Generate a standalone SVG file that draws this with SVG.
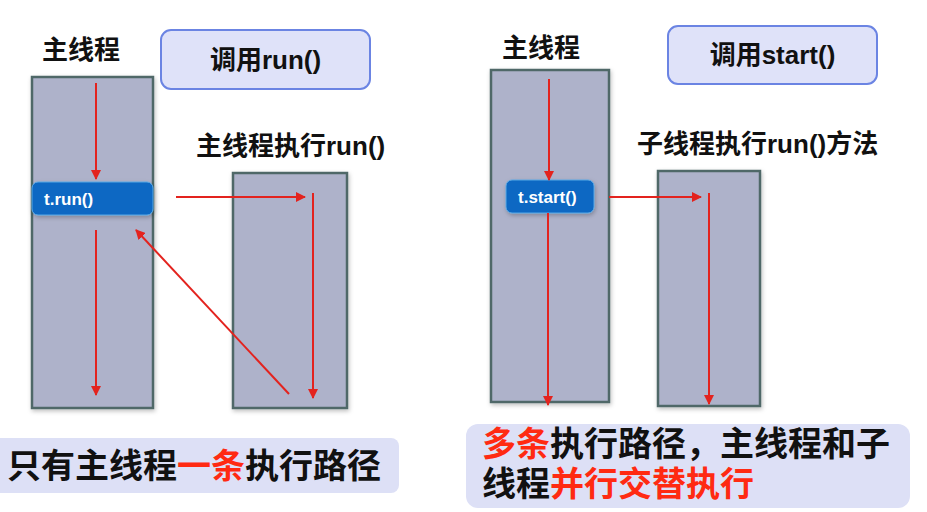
<svg xmlns="http://www.w3.org/2000/svg" width="927" height="512" viewBox="0 0 927 512">
<style>
.t{font-family:"Liberation Sans","Noto Sans CJK SC",sans-serif;font-weight:bold;fill:#111}
.lbl{font-size:26px}
.big{font-size:34px}
.btn{font-size:17px;fill:#fff}
.red{fill:#ff2a12}
.col{fill:#aeb2ca;stroke:#4f6868;stroke-width:2.5}
.call{fill:#0c68c3;stroke:#5aa9e6;stroke-width:1}
.box{fill:#dfe2f9;stroke:#6b84e3;stroke-width:2}
.note{fill:#dde0f6}
.ar{stroke:#e3231e;stroke-width:2;fill:none;marker-end:url(#ah)}
</style>
<defs>
<marker id="ah" viewBox="0 0 10 10" refX="9" refY="5" markerWidth="5" markerHeight="5" orient="auto" markerUnits="strokeWidth">
<path d="M0,0 L10,5 L0,10 z" fill="#e3231e"/>
</marker>
<filter id="sh" x="-10%" y="-10%" width="130%" height="130%">
<feDropShadow dx="1" dy="2" stdDeviation="2" flood-color="#000" flood-opacity="0.25"/>
</filter>
</defs>
<rect width="927" height="512" fill="#fff"/>

<g id="left-main-label"><text class="t lbl" x="42" y="59">主线程</text></g>
<g id="call-run"><rect class="box" x="161" y="30" width="209" height="59" rx="10"/><text class="t lbl" x="265.5" y="69" text-anchor="middle">调用run()</text></g>
<g id="left-main-thread"><rect class="col" x="32" y="77" width="121" height="331" filter="url(#sh)"/></g>
<g id="t-run"><rect class="call" x="32" y="182" width="121" height="33" rx="6" filter="url(#sh)"/><text class="t btn" x="44" y="205">t.run()</text></g>
<g id="left-sub-label"><text class="t lbl" x="196" y="155">主线程执行run()</text></g>
<g id="left-run-col"><rect class="col" x="233" y="173" width="114" height="235" filter="url(#sh)"/></g>

<g id="right-main-label"><text class="t lbl" x="502" y="57">主线程</text></g>
<g id="call-start"><rect class="box" x="668" y="26" width="209" height="58" rx="10"/><text class="t lbl" x="772.5" y="64" text-anchor="middle">调用start()</text></g>
<g id="right-main-thread"><rect class="col" x="491" y="70" width="118" height="332" filter="url(#sh)"/></g>
<g id="t-start"><rect class="call" x="506" y="180" width="88" height="33" rx="6" filter="url(#sh)"/><text class="t btn" x="518" y="203">t.start()</text></g>
<g id="right-sub-label"><text class="t lbl" x="637" y="153">子线程执行run()方法</text></g>
<g id="right-run-col"><rect class="col" x="658" y="171" width="102" height="235" filter="url(#sh)"/></g>

<g id="connectors">
<line class="ar" x1="96" y1="83" x2="96" y2="179"/>
<line class="ar" x1="96" y1="230" x2="96" y2="395"/>
<line class="ar" x1="176" y1="197" x2="305" y2="197"/>
<line class="ar" x1="313" y1="193" x2="313" y2="398"/>
<line class="ar" x1="289" y1="394" x2="136" y2="230"/>
<line class="ar" x1="549" y1="79" x2="549" y2="180"/>
<line class="ar" x1="548" y1="213" x2="548" y2="405"/>
<line class="ar" x1="609" y1="197" x2="701" y2="197"/>
<line class="ar" x1="709" y1="193" x2="709" y2="404"/>
</g>

<g id="note-left"><rect class="note" x="-10" y="438" width="409" height="55" rx="8"/>
<text class="t big" x="7" y="478">只有主线程<tspan class="red">一条</tspan>执行路径</text></g>
<g id="note-right"><rect class="note" x="466" y="424" width="444" height="84" rx="12"/>
<text class="t big" x="482" y="456"><tspan class="red">多条</tspan>执行路径，主线程和子</text>
<text class="t big" x="482" y="496">线程<tspan class="red">并行交替执行</tspan></text></g>
</svg>
